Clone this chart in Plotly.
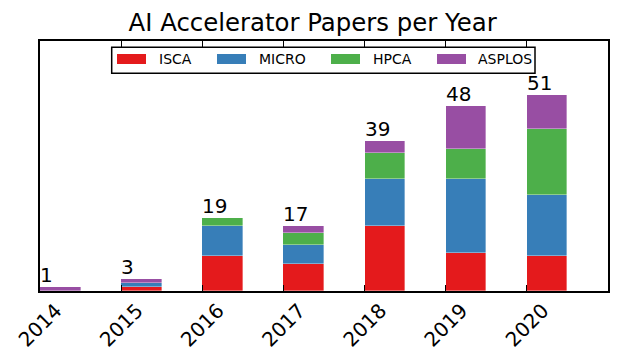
import plotly.graph_objects as go

years = ["2014", "2015", "2016", "2017", "2018", "2019", "2020"]
isca = [0, 1, 9, 7, 17, 10, 9]
micro = [0, 1, 8, 5, 12, 19, 16]
hpca = [0, 0, 2, 3, 7, 8, 17]
asplos = [1, 1, 0, 2, 3, 11, 9]
series_names = ["ISCA", "MICRO", "HPCA", "ASPLOS"]
colors = ["#e41a1c", "#377eb8", "#4daf4a", "#984ea3"]

W, H = 623, 357
ML, MR, MT, MB = 40, 15, 41, 66
PW, PH = W - ML - MR, H - MT - MB

def px(x):
    return (x - ML) / PW

def py(y):
    return (H - MB - y) / PH

idx = list(range(len(years)))
totals = [a + b + c + d for a, b, c, d in zip(isca, micro, hpca, asplos)]

fig = go.Figure()
for name, vals, col in zip(series_names, [isca, micro, hpca, asplos], colors):
    fig.add_trace(go.Bar(
        x=idx, y=vals, name=name, width=0.5, offset=0,
        marker=dict(color=col, line=dict(color="rgba(255,255,255,0.45)", width=0.8)),
        showlegend=False,
    ))

annotations = []
for i, t in zip(idx, totals):
    annotations.append(dict(
        x=i, y=t, xref="x", yref="y", text=str(t), showarrow=False,
        xanchor="left", yanchor="bottom", xshift=-2, yshift=-2,
        font=dict(family="DejaVu Sans", size=20, color="black"),
    ))

# manual legend
shapes = [dict(type="rect", xref="paper", yref="paper",
               x0=px(111.7), x1=px(535), y0=py(73.3), y1=py(47.3),
               line=dict(color="black", width=1.5), fillcolor="white", layer="above")]
sw_x = [117, 217, 331, 437]
tx_x = [157, 257, 371, 476]
for name, col, sx, tx in zip(series_names, colors, sw_x, tx_x):
    shapes.append(dict(type="rect", xref="paper", yref="paper",
                       x0=px(sx), x1=px(sx + 29), y0=py(64), y1=py(54),
                       line=dict(width=0), fillcolor=col, layer="above"))
    annotations.append(dict(x=px(tx), y=py(59.5), xref="paper", yref="paper",
                            text=name, showarrow=False, xanchor="left", yanchor="middle",
                            font=dict(family="DejaVu Sans", size=14, color="black")))

fig.update_layout(
    width=W, height=H,
    margin=dict(l=ML, r=MR, t=MT, b=MB, autoexpand=False),
    barmode="stack",
    plot_bgcolor="white", paper_bgcolor="white",
    font=dict(family="DejaVu Sans", color="black"),
    title=dict(text="AI Accelerator Papers per Year", x=px(325), xanchor="center",
               y=1 - 22 / H, yanchor="middle", yref="container",
               font=dict(family="DejaVu Sans", size=24.4, color="black")),
    shapes=shapes,
    annotations=annotations,
    showlegend=False,
    bargap=0,
)
fig.update_xaxes(
    range=[0, 7], tickmode="array", tickvals=idx, ticktext=years,
    tickangle=-45, tickfont=dict(family="DejaVu Sans", size=20, color="black"),
    ticks="inside", ticklen=6, tickwidth=1.2, tickcolor="black",
    showline=True, linecolor="black", linewidth=1.8, mirror="ticks",
    showgrid=False, zeroline=False, ticklabelshift=16, ticklabelstandoff=-2,
    automargin=False,
)
fig.update_yaxes(
    range=[0, 65], showticklabels=False, ticks="",
    showline=True, linecolor="black", linewidth=1.8, mirror=True,
    showgrid=False, zeroline=False, automargin=False,
)

fig.write_html("out.html", config={"displayModeBar": False},
               post_script="document.body.style.margin='0px';")
